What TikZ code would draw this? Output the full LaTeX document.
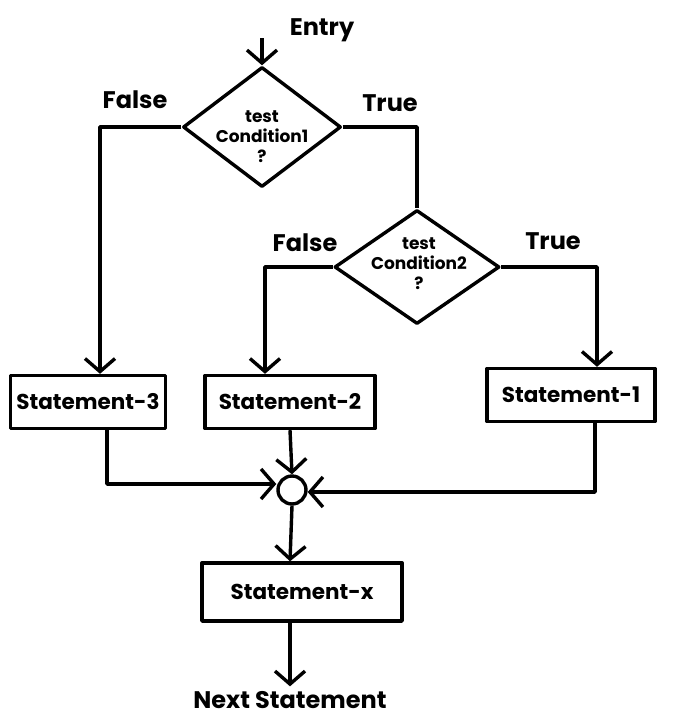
\documentclass[tikz,border=0pt]{standalone}
\usepackage{fontspec}
\setmainfont{Poppins}
\usetikzlibrary{shapes.geometric,arrows.meta}
\begin{document}
\begin{tikzpicture}[x=1pt,y=-1pt, line width=3.4pt, line join=round,
  arr/.style={-{Straight Barb[length=13pt,width=30pt]}},
  cond/.style={draw, diamond, inner sep=0pt},
  condtext/.style={align=center, inner sep=0pt, font=\fontsize{17}{20}\selectfont\bfseries},
  stbox/.style={draw, rectangle, inner sep=2pt, minimum height=53pt, font=\fontsize{21.5}{24}\selectfont\bfseries},
  lbl/.style={font=\fontsize{24}{26}\selectfont\bfseries},
  merge/.style={draw, circle, minimum size=28pt, inner sep=0pt}]
\useasboundingbox (0,0) rectangle (675,721);
\node[lbl] (entrylbl) at (322,30) {Entry};
\coordinate (entry) at (262,38);
\node[cond, minimum width=158pt, minimum height=120pt] (d1) at (262,127) {};
\node[condtext] (d1t) at (262,137) {test\\Condition1\\?};
\node[lbl] (f1) at (135,100) {False};
\node[lbl] (t1) at (390,103) {True};
\node[cond, minimum width=165pt, minimum height=114pt] (d2) at (417,267) {};
\node[condtext] (d2t) at (419,264) {test\\Condition2\\?};
\node[lbl] (f2) at (305,243) {False};
\node[lbl] (t2) at (553,241) {True};
\node[stbox, minimum width=155pt] (s3) at (88,402) {Statement-3};
\node[stbox, minimum width=170pt] (s2) at (290,402) {Statement-2};
\node[stbox, minimum width=168pt] (s1) at (571,395) {Statement-1};
\node[merge] (c) at (292,490) {};
\node[stbox, minimum width=200pt, minimum height=58pt] (sx) at (302,592) {Statement-x};
\node[lbl] (next) at (290,700) {Next Statement};
\draw[arr] (entry) -- (d1.north);
\draw[arr] (d1.west) -| ([xshift=12pt]s3.north);
\draw (d1.east) -| (d2.north);
\draw[arr] (d2.west) -| ([xshift=-25pt]s2.north);
\draw[arr] (d2.east) -| ([xshift=26pt]s1.north);
\draw[arr] ([xshift=19pt]s3.south) |- ([yshift=6pt]c.west);
\draw[arr] (s2.south) -- (c.north);
\draw[arr] ([xshift=24pt]s1.south) |- ([yshift=-2pt]c.east);
\draw[arr] (c.south) -- ([xshift=-12pt]sx.north);
\draw[arr] ([xshift=-12pt]sx.south) -- (next.north);
\end{tikzpicture}
\end{document}
